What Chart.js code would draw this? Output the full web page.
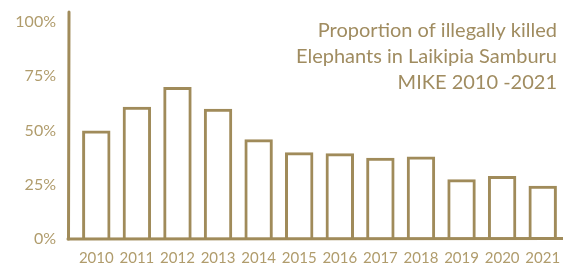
<!DOCTYPE html>
<html><head><meta charset="utf-8">
<script src="https://cdn.jsdelivr.net/npm/chart.js@4"></script>
<style>html,body{margin:0;padding:0;background:#fff;}#wrap{position:relative;width:563px;height:267px;}</style>
</head><body><div id="wrap"><canvas id="c" width="563" height="267"></canvas></div>
<script>
const categories = ['2010','2011','2012','2013','2014','2015','2016','2017','2018','2019','2020','2021'];
const proportionKilled = [50, 61, 70, 60, 46, 40, 39.5, 37.5, 38, 27.5, 29, 24.5];
const yTicks = [0, 25, 50, 75, 100];
const titleLines = ['Proportion of illegally killed', 'Elephants in Laikipia Samburu', 'MIKE 2010 -2021'];

const STROKE = '#a08b5a';
const TEXT = '#b09c6c';
const FONT = 'Lato';

const axisPlugin = {
  id: 'handAxes',
  afterDraw(chart) {
    const {ctx, chartArea} = chart;
    const y = chart.scales.y;
    const base = y.getPixelForValue(0);
    ctx.save();
    ctx.strokeStyle = STROKE;
    ctx.lineWidth = 3;
    ctx.lineCap = 'round';
    ctx.beginPath();
    ctx.moveTo(chartArea.left - 7, 12);
    ctx.lineTo(chartArea.left - 7.5, base);
    ctx.stroke();
    ctx.beginPath();
    ctx.moveTo(chartArea.left - 8, base);
    ctx.lineTo(chart.width, base - 0.5);
    ctx.stroke();
    ctx.fillStyle = '#a08c60';
    ctx.font = '20px ' + FONT;
    ctx.textAlign = 'right';
    ctx.textBaseline = 'middle';
    const tops = [31, 57, 83];
    titleLines.forEach((t, i) => ctx.fillText(t, chart.width - 6, tops[i]));
    ctx.restore();
  }
};

new Chart(document.getElementById('c'), {
  type: 'bar',
  data: {
    labels: categories,
    datasets: [{
      data: proportionKilled,
      backgroundColor: 'rgba(255,255,255,0)',
      borderColor: STROKE,
      borderWidth: 3,
      borderSkipped: 'start',
      barPercentage: 0.7,
      categoryPercentage: 1
    }]
  },
  options: {
    responsive: false,
    animation: false,
    layout: {padding: {top: 22, right: 0, left: 0, bottom: 0}},
    plugins: {legend: {display: false}, tooltip: {enabled: false}},
    scales: {
      x: {
        grid: {display: false, drawTicks: false},
        border: {display: false},
        ticks: {color: TEXT, font: {family: FONT, size: 15}, padding: 10, maxRotation: 0},
        afterFit(s) { s.height = 28; s.paddingLeft = 0; s.paddingRight = 0; }
      },
      y: {
        min: 0, max: 100,
        grid: {display: false, drawTicks: false},
        border: {display: false},
        afterBuildTicks(s) { s.ticks = yTicks.map(v => ({value: v})); },
        ticks: {color: TEXT, font: {family: FONT, size: 16}, padding: 20, callback: v => v + '%'},
        afterFit(s) { s.width = 76; s.paddingTop = 0; s.paddingBottom = 0; }
      }
    }
  },
  plugins: [axisPlugin]
});
</script></body></html>
